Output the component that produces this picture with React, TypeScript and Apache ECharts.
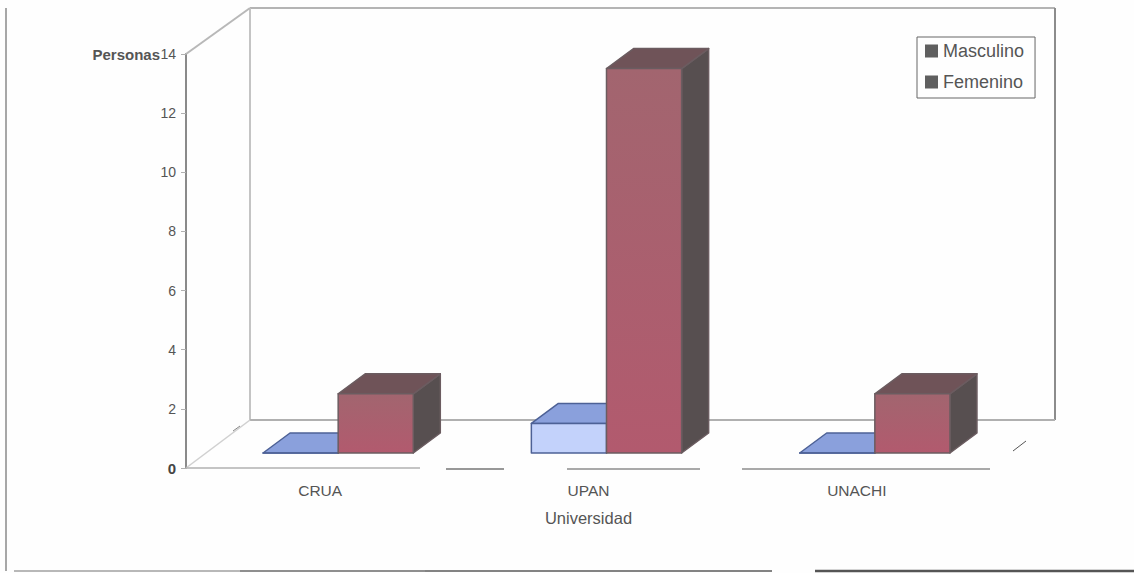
import React, { useEffect, useRef } from "react";
import * as echarts from "echarts";

const categories = ["CRUA", "UPAN", "UNACHI"];
const masculino = [0, 1, 0];
const femenino = [2, 13, 2];
const yMax = 14;
const yStep = 2;

const DEPTH_X = 64, DEPTH_Y = 48;
const BAR_SHIFT_X = 18, BAR_SHIFT_Y = 15, BAR_DX = 27, BAR_DY = 20;
const FONT = '"Liberation Sans", Arial, sans-serif';

function wallItem(params: any, api: any) {
  const c = params.coordSys;
  const L = c.x, R = c.x + c.width, T = c.y, B = c.y + c.height;
  const line = (x1: number, y1: number, x2: number, y2: number, color: string, w = 2) => ({
    type: "line",
    shape: { x1, y1, x2, y2 },
    style: { stroke: color, lineWidth: w },
  });
  const bl = L + DEPTH_X, br = R + DEPTH_X, bt = T - DEPTH_Y + 2, bb = B - DEPTH_Y;
  return {
    type: "group",
    children: [
      line(bl, bt, br, bt, "#b4b4b4"),
      line(bl, bt, bl, bb, "#c4c4c4"),
      line(br, bt, br, bb, "#8c8c8c"),
      line(bl, bb, br, bb, "#b0b0b0"),
      line(L, T, bl, bt, "#b8b8b8"),
      line(L, B, bl, bb, "#d0d0d0", 1.5),
      line(L, B, L + 234, B, "#b0b0b0", 1.5),
      line(L + 260, B + 1, L + 318, B + 1, "#333333", 1),
      line(L + 381, B + 1, L + 514, B + 1, "#555555", 1),
      line(L + 556, B + 1, L + 804, B + 1, "#555555", 1),
      line(L + 827, B - 17, L + 840, B - 27, "#555555", 1),
      line(L + 47, B - 37, L + 54, B - 42, "#888888", 1),
    ],
  };
}

function barItem(palette: any, side: number) {
  return (params: any, api: any) => {
    const base = api.coord([api.value(0), 0]);
    const top = api.coord([api.value(0), api.value(1)]);
    const w = api.size([1, 0])[0] * 0.28;
    const x0 = base[0] + BAR_SHIFT_X + (side < 0 ? -w : 0);
    const x1 = x0 + w;
    const yb = base[1] - BAR_SHIFT_Y;
    const yt = top[1] - BAR_SHIFT_Y;
    const poly = (points: number[][], fill: any) => ({
      type: "polygon",
      shape: { points },
      style: { fill, stroke: palette.edge, lineWidth: 1.5, lineJoin: "round" },
    });
    return {
      type: "group",
      children: [
        poly([[x1, yb], [x1 + BAR_DX, yb - BAR_DY], [x1 + BAR_DX, yt - BAR_DY], [x1, yt]], palette.side),
        poly([[x0, yt], [x0 + BAR_DX, yt - BAR_DY], [x1 + BAR_DX, yt - BAR_DY], [x1, yt]], palette.top),
        poly([[x0, yb], [x1, yb], [x1, yt], [x0, yt]], palette.front),
      ],
    };
  };
}

const malePalette = { front: "#c3d2fb", top: "#8aa0dc", side: "#6b80b8", edge: "#4d6196" };
const femalePalette = {
  front: new echarts.graphic.LinearGradient(0, 0, 0, 1, [
    { offset: 0, color: "#a2656f" },
    { offset: 1, color: "#b25a6e" },
  ]),
  top: "#6f5358",
  side: "#574f50",
  edge: "#6b5c60",
};

export default function App() {
  const ref = useRef<HTMLDivElement>(null);
  useEffect(() => {
    document.body.style.margin = "0";
    const chart = echarts.init(ref.current!, null, { renderer: "svg" });
    chart.setOption({
      animation: false,
      backgroundColor: "#fefefe",
      textStyle: { fontFamily: FONT },
      grid: { left: 186, top: 54, width: 805, height: 414, containLabel: false },
      legend: {
        orient: "vertical",
        left: 917,
        top: 37,
        padding: [5, 11, 7, 8],
        itemWidth: 13,
        itemHeight: 13,
        itemGap: 13,
        icon: "rect",
        borderColor: "#666666",
        borderWidth: 1,
        borderRadius: 0,
        textStyle: { color: "#555555", fontSize: 18, fontFamily: FONT },
        data: [
          { name: "Masculino", itemStyle: { color: "#5f5f5f" } },
          { name: "Femenino", itemStyle: { color: "#5f5f5f" } },
        ],
      },
      xAxis: {
        type: "category",
        data: categories,
        axisLine: { show: false },
        axisTick: { show: false },
        axisLabel: { color: "#555555", fontSize: 15.5, margin: 14 },
        name: "Universidad",
        nameLocation: "middle",
        nameGap: 41,
        nameTextStyle: { color: "#555555", fontSize: 16.5, fontFamily: FONT },
      },
      yAxis: {
        type: "value",
        min: 0,
        max: yMax,
        interval: yStep,
        name: "Personas",
        nameLocation: "end",
        nameGap: 0,
        nameMoveOverlap: false,
        nameTextStyle: {
          color: "#555555",
          fontSize: 15,
          fontWeight: "bold",
          align: "right",
          verticalAlign: "middle",
          padding: [0, 26, 0, 0],
          fontFamily: FONT,
        },
        axisLine: { show: true, lineStyle: { color: "#8a8a8a", width: 2 } },
        axisTick: { show: true, length: 5, lineStyle: { color: "#b0b0b0", width: 1 } },
        splitLine: { show: false },
        axisLabel: {
          fontSize: 14,
          margin: 10,
          color: (v: number) => (v === 2 || v === 4 ? "#909090" : "#555555"),
          formatter: (v: number) => (v === 0 ? "{b|0}" : String(v)),
          rich: { b: { fontSize: 15, fontWeight: "bold", color: "#444444", fontFamily: FONT } },
        },
      },
      series: [
        {
          type: "custom",
          silent: true,
          renderItem: wallItem,
          data: [[0, 0]],
          encode: { x: 0, y: 1 },
          z: 1,
        },
        {
          name: "Masculino",
          type: "custom",
          renderItem: barItem(malePalette, -1),
          data: masculino.map((v, i) => [i, v]),
          encode: { x: 0, y: 1 },
          z: 2,
        },
        {
          name: "Femenino",
          type: "custom",
          renderItem: barItem(femalePalette, 1),
          data: femenino.map((v, i) => [i, v]),
          encode: { x: 0, y: 1 },
          z: 3,
        },
      ],
      graphic: [
        { type: "line", silent: true, shape: { x1: 6, y1: 8, x2: 6, y2: 571 }, style: { stroke: "#8a8a8a", lineWidth: 1.5 } },
        { type: "line", silent: true, shape: { x1: 14, y1: 571, x2: 240, y2: 571 }, style: { stroke: "#a0a0a0", lineWidth: 1.5 } },
        { type: "line", silent: true, shape: { x1: 240, y1: 571, x2: 425, y2: 571 }, style: { stroke: "#6a6a6a", lineWidth: 1.5 } },
        { type: "line", silent: true, shape: { x1: 425, y1: 571, x2: 772, y2: 571 }, style: { stroke: "#5a5a5a", lineWidth: 1.5 } },
        { type: "line", silent: true, shape: { x1: 815, y1: 571, x2: 1134, y2: 571 }, style: { stroke: "#555555", lineWidth: 2.5 } },
      ],
    });
    return () => chart.dispose();
  }, []);
  return <div ref={ref} style={{ position: "fixed", left: 0, top: 0, width: 1134, height: 573 }} />;
}
